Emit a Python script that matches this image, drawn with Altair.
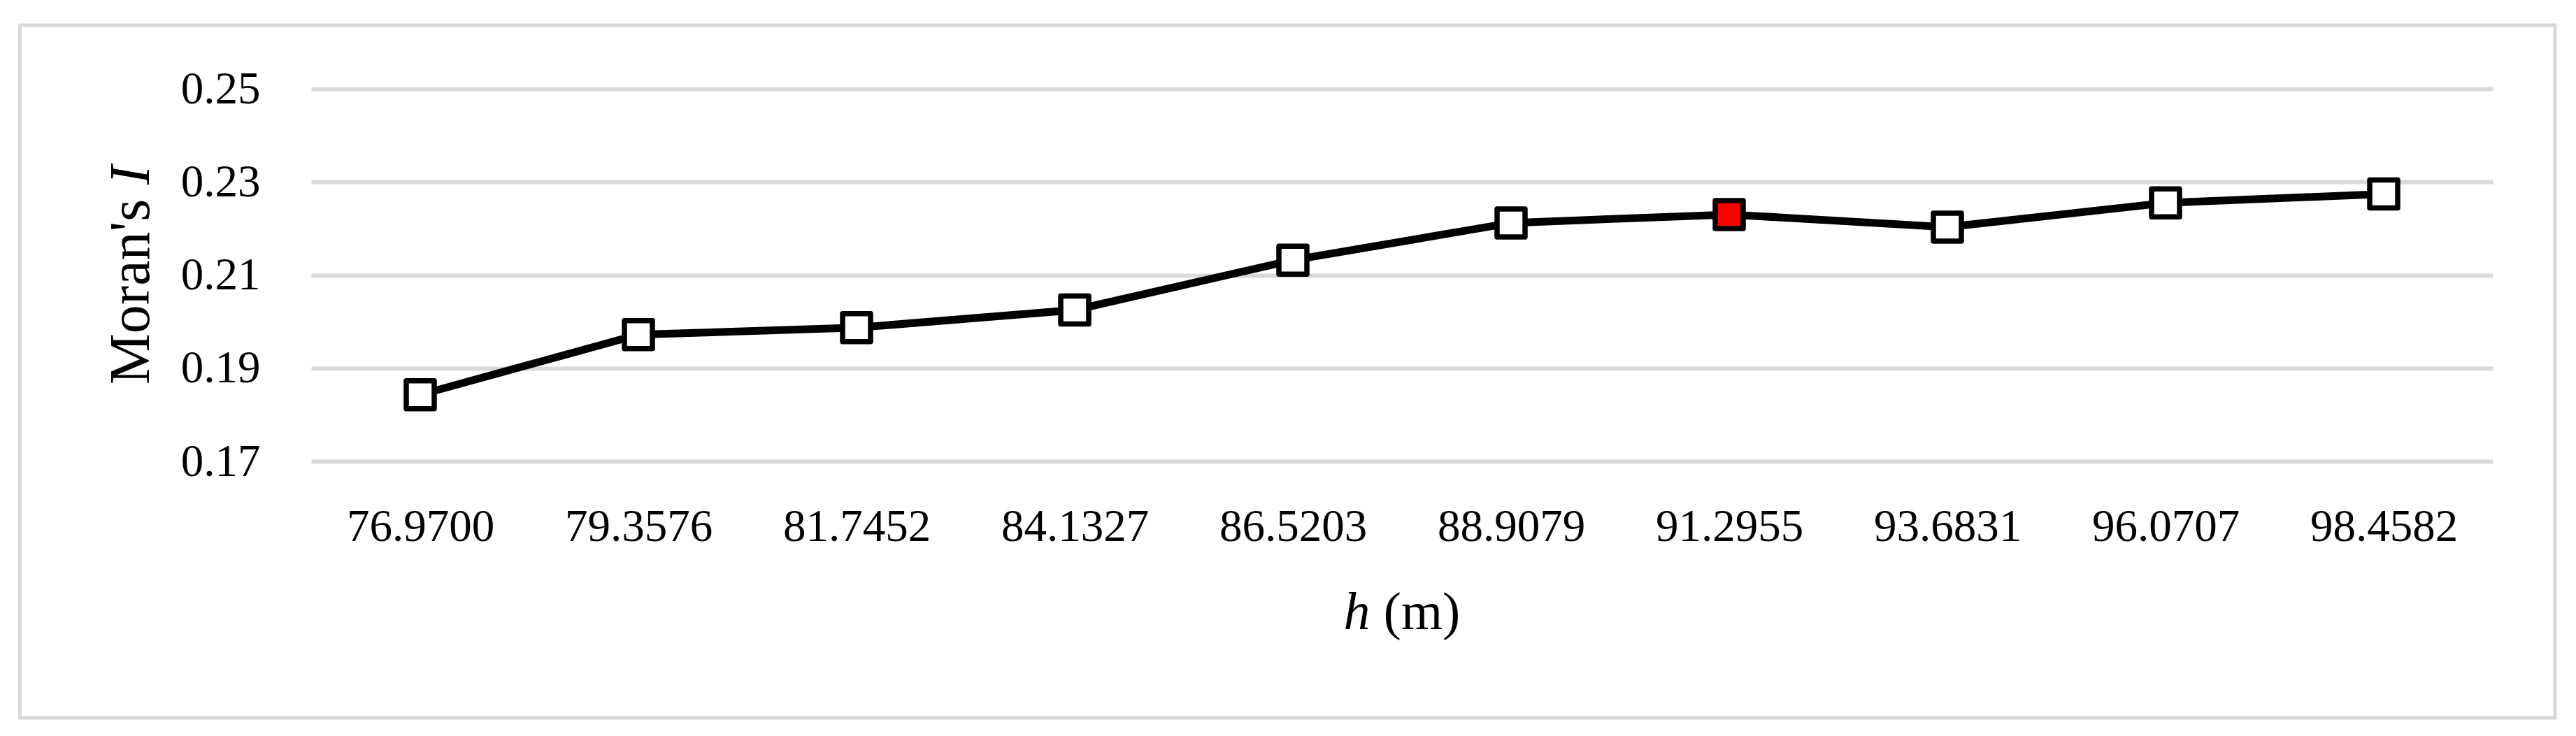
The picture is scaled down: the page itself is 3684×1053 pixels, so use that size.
import altair as alt
import pandas as pd

# ---- data ----
h_labels = ["76.9700", "79.3576", "81.7452", "84.1327", "86.5203",
            "88.9079", "91.2955", "93.6831", "96.0707", "98.4582"]
moran_i = [0.1843, 0.1972, 0.1987, 0.2025, 0.2132,
           0.2212, 0.2230, 0.2203, 0.2255, 0.2274]
highlight = "91.2955"
y_ticks = [0.17, 0.19, 0.21, 0.23, 0.25]

df = pd.DataFrame({"h": h_labels, "I": moran_i})
df["hl"] = df["h"].apply(lambda v: "yes" if v == highlight else "no")

W, H = 3120, 533
FONT = "Liberation Serif"

x_enc = alt.X("h:N", sort=None,
              scale=alt.Scale(type="point", padding=0.5),
              axis=alt.Axis(title=None, labelFont=FONT, labelFontSize=65,
                            labelColor="black", labelPadding=62, labelAngle=0,
                            labelLimit=1000, labelOverlap=False,
                            domain=False, ticks=False, grid=False))
y_enc = alt.Y("I:Q",
              scale=alt.Scale(domain=[0.17, 0.25], zero=False, nice=False),
              axis=alt.Axis(title=None, values=y_ticks, format=".2f",
                            labelFont=FONT, labelFontSize=65, labelColor="black",
                            labelPadding=73, labelLimit=1000, domain=False, ticks=False,
                            grid=True, gridColor="#d9d9d9", gridWidth=6))

line = alt.Chart(df).mark_line(color="black", strokeWidth=11).encode(x=x_enc, y=y_enc)

points = alt.Chart(df).mark_point(shape="square", filled=True, size=1600,
                                  stroke="black", strokeWidth=7.5,
                                  strokeJoin="round", opacity=1).encode(
    x=x_enc, y=y_enc,
    fill=alt.Fill("hl:N", scale=alt.Scale(domain=["no", "yes"],
                                          range=["#ffffff", "#ff0000"]),
                  legend=None))

one = pd.DataFrame({"k": [0]})

frame = alt.Chart(one).mark_rect(fillOpacity=0, stroke="#d9d9d9", strokeWidth=5).encode(
    x=alt.value(-416.5), x2=alt.value(3209), y=alt.value(-91), y2=alt.value(900))

# x-axis title: italic "h" + " (m)"
xt_h = alt.Chart(one).mark_text(text="h", font=FONT, fontSize=76, fontStyle="italic",
                                align="right", baseline="alphabetic", color="black").encode(
    x=alt.value(1514.6), y=alt.value(773))
xt_m = alt.Chart(one).mark_text(text="(m)", font=FONT, fontSize=76,
                                align="left", baseline="alphabetic", color="black").encode(
    x=alt.value(1533.6), y=alt.value(773))

# y-axis title: "Moran's " + italic "I", rotated
YT = 82
y_start = H / 2 + 0.5 * 3.818 * YT
yt_a = alt.Chart(one).mark_text(text="Moran's", font=FONT, fontSize=YT, angle=270,
                                align="left", baseline="alphabetic", color="black").encode(
    x=alt.value(-232), y=alt.value(y_start))
yt_b = alt.Chart(one).mark_text(text="I", font=FONT, fontSize=YT, fontStyle="italic",
                                angle=270, align="left", baseline="alphabetic",
                                color="black").encode(
    x=alt.value(-232), y=alt.value(y_start - 3.485 * YT))

chart = alt.layer(frame, line, points, xt_h, xt_m, yt_a, yt_b).properties(
    width=W, height=H,
    autosize=alt.AutoSizeParams(type="none"),
    padding={"left": 437, "top": 119, "right": 111, "bottom": 385},
    background="white",
).configure_view(strokeWidth=0)

chart.save("out.html", embed_options={"renderer": "svg", "actions": False})
